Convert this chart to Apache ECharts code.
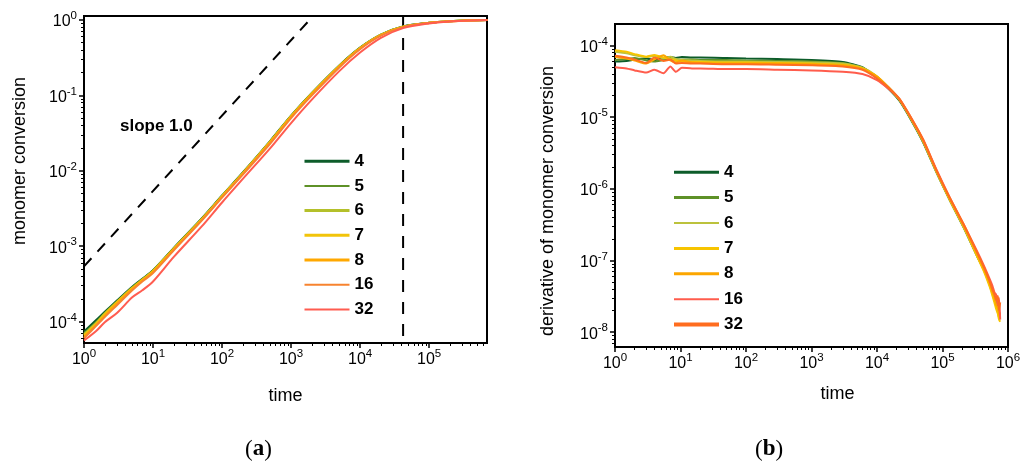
<!DOCTYPE html>
<html>
<head>
<meta charset="utf-8">
<script src="https://cdn.jsdelivr.net/npm/echarts@6/dist/echarts.min.js"></script>
<style>html,body{margin:0;padding:0;background:#fff;}#c{width:1030px;height:461px;}</style>
</head>
<body>
<div id="c"></div>
<script>
// ---------- data: panel (a) monomer conversion ----------
var timeA = [1, 1.5, 2, 3, 5, 7, 10, 20, 50, 100, 200, 500, 1000, 2000, 5000, 10000, 20000, 42000, 100000, 200000, 400000, 700000];
var convN4  = [7.4e-5, 1.05e-4, 1.35e-4, 1.9e-4, 2.9e-4, 3.7e-4, 4.8e-4, 9.5e-4, 2.3e-3, 4.7e-3, 9.5e-3, 2.5e-2, 5.4e-2, 1.08e-1, 2.5e-1, 4.3e-1, 6.4e-1, 8.2e-1, 9.2e-1, 9.65e-1, 9.9e-1, 1.0];
var convN5  = [7.0e-5, 9.8e-5, 1.3e-4, 1.85e-4, 2.85e-4, 3.65e-4, 4.75e-4, 9.4e-4, 2.28e-3, 4.65e-3, 9.4e-3, 2.47e-2, 5.35e-2, 1.07e-1, 2.48e-1, 4.28e-1, 6.38e-1, 8.18e-1, 9.2e-1, 9.65e-1, 9.9e-1, 1.0];
var convN6  = [6.8e-5, 9.6e-5, 1.28e-4, 1.82e-4, 2.8e-4, 3.6e-4, 4.7e-4, 9.3e-4, 2.25e-3, 4.6e-3, 9.3e-3, 2.45e-2, 5.3e-2, 1.06e-1, 2.46e-1, 4.26e-1, 6.36e-1, 8.16e-1, 9.18e-1, 9.64e-1, 9.9e-1, 1.0];
var convN7  = [6.6e-5, 9.4e-5, 1.25e-4, 1.8e-4, 2.78e-4, 3.58e-4, 4.7e-4, 9.3e-4, 2.25e-3, 4.6e-3, 9.3e-3, 2.45e-2, 5.3e-2, 1.06e-1, 2.46e-1, 4.25e-1, 6.35e-1, 8.15e-1, 9.18e-1, 9.64e-1, 9.9e-1, 1.0];
var convN8  = [6.3e-5, 9.0e-5, 1.2e-4, 1.75e-4, 2.72e-4, 3.52e-4, 4.6e-4, 9.1e-4, 2.2e-3, 4.5e-3, 9.1e-3, 2.4e-2, 5.2e-2, 1.04e-1, 2.42e-1, 4.2e-1, 6.3e-1, 8.1e-1, 9.15e-1, 9.62e-1, 9.88e-1, 1.0];
var convN16 = [6.0e-5, 8.8e-5, 1.15e-4, 1.65e-4, 2.6e-4, 3.4e-4, 4.4e-4, 8.8e-4, 2.15e-3, 4.4e-3, 8.9e-3, 2.3e-2, 5.0e-2, 1.0e-1, 2.35e-1, 4.1e-1, 6.2e-1, 8.05e-1, 9.15e-1, 9.6e-1, 9.88e-1, 1.0];
var convN32 = [5.6e-5, 7.5e-5, 9.8e-5, 1.3e-4, 2.1e-4, 2.6e-4, 3.4e-4, 7.2e-4, 1.8e-3, 3.8e-3, 7.8e-3, 2.0e-2, 4.3e-2, 8.8e-2, 2.1e-1, 3.7e-1, 5.8e-1, 7.8e-1, 9.0e-1, 9.55e-1, 9.85e-1, 1.0];
var slopeLine = [[1, 5.4e-4], [1850, 1.0]];
var markerTime = 42000;

// ---------- data: panel (b) derivative ----------
var timeB = [1, 1.5, 2, 3, 4, 5.5, 7, 8.5, 10.5, 15, 20, 50, 100, 300, 1000, 3000, 6000, 10000, 15000, 22000, 35000, 51000, 81000, 129000, 210000, 330000, 430000, 530000, 580000, 620000, 660000, 700000, 730000, 760000];
var derN4  = [6.0e-5, 6.1e-5, 6.4e-5, 6.6e-5, 6.3e-5, 6.7e-5, 6.9e-5, 6.7e-5, 6.9e-5, 6.8e-5, 6.8e-5, 6.7e-5, 6.6e-5, 6.5e-5, 6.3e-5, 5.9e-5, 5.0e-5, 3.5e-5, 2.5e-5, 1.7e-5, 8.4e-6, 4.4e-6, 1.7e-6, 7.0e-7, 2.9e-7, 1.2e-7, 7.4e-8, 4.6e-8, 3.6e-8, 3.0e-8, 2.5e-8, 2.1e-8, 1.9e-8, 1.7e-8];
var derN5  = [6.3e-5, 6.5e-5, 6.7e-5, 6.2e-5, 6.0e-5, 6.3e-5, 6.5e-5, 6.2e-5, 6.4e-5, 6.4e-5, 6.3e-5, 6.3e-5, 6.2e-5, 6.1e-5, 6.0e-5, 5.7e-5, 4.9e-5, 3.6e-5, 2.6e-5, 1.75e-5, 8.6e-6, 4.5e-6, 1.75e-6, 7.2e-7, 3.0e-7, 1.25e-7, 7.6e-8, 4.7e-8, 3.7e-8, 3.0e-8, 2.6e-8, 2.2e-8, 1.9e-8, 1.7e-8];
var derN6  = [8.2e-5, 7.8e-5, 7.3e-5, 6.9e-5, 7.2e-5, 6.6e-5, 7.0e-5, 6.5e-5, 6.3e-5, 6.2e-5, 6.1e-5, 6.0e-5, 6.0e-5, 5.9e-5, 5.8e-5, 5.6e-5, 4.9e-5, 3.7e-5, 2.6e-5, 1.75e-5, 8.6e-6, 4.5e-6, 1.7e-6, 7.0e-7, 2.9e-7, 1.2e-7, 7.2e-8, 4.4e-8, 3.4e-8, 2.8e-8, 2.3e-8, 1.9e-8, 1.6e-8, 1.5e-8];
var derN7  = [8.6e-5, 8.2e-5, 7.6e-5, 7.0e-5, 7.4e-5, 6.8e-5, 6.5e-5, 6.2e-5, 6.0e-5, 5.9e-5, 5.9e-5, 5.8e-5, 5.8e-5, 5.7e-5, 5.6e-5, 5.4e-5, 4.8e-5, 3.7e-5, 2.6e-5, 1.75e-5, 8.7e-6, 4.6e-6, 1.75e-6, 7.1e-7, 3.0e-7, 1.2e-7, 7.0e-8, 4.2e-8, 3.2e-8, 2.6e-8, 2.1e-8, 1.8e-8, 1.5e-8, 1.4e-8];
var derN8  = [7.0e-5, 6.6e-5, 6.2e-5, 5.6e-5, 6.4e-5, 7.3e-5, 6.2e-5, 5.8e-5, 6.2e-5, 5.8e-5, 5.7e-5, 5.6e-5, 5.6e-5, 5.6e-5, 5.5e-5, 5.3e-5, 4.7e-5, 3.7e-5, 2.6e-5, 1.78e-5, 8.8e-6, 4.6e-6, 1.8e-6, 7.3e-7, 3.1e-7, 1.3e-7, 7.6e-8, 4.8e-8, 3.6e-8, 3.1e-8, 2.4e-8, 2.2e-8, 1.8e-8, 1.6e-8];
var derN16 = [5.0e-5, 4.8e-5, 4.5e-5, 4.2e-5, 4.6e-5, 4.1e-5, 5.1e-5, 4.3e-5, 4.9e-5, 4.8e-5, 4.8e-5, 4.7e-5, 4.7e-5, 4.6e-5, 4.5e-5, 4.3e-5, 4.0e-5, 3.3e-5, 2.5e-5, 1.8e-5, 9.0e-6, 4.8e-6, 1.85e-6, 7.6e-7, 3.2e-7, 1.4e-7, 8.4e-8, 5.4e-8, 4.4e-8, 3.6e-8, 3.3e-8, 2.4e-8, 3.0e-8, 1.5e-8];
var derN32 = [7.2e-5, 6.8e-5, 6.4e-5, 5.7e-5, 6.8e-5, 6.1e-5, 6.4e-5, 5.6e-5, 5.7e-5, 5.6e-5, 5.6e-5, 5.5e-5, 5.5e-5, 5.4e-5, 5.3e-5, 5.1e-5, 4.6e-5, 3.5e-5, 2.6e-5, 1.8e-5, 9.0e-6, 4.8e-6, 1.8e-6, 7.5e-7, 3.2e-7, 1.35e-7, 8.0e-8, 5.0e-8, 3.9e-8, 3.4e-8, 2.8e-8, 3.2e-8, 2.0e-8, 2.6e-8];

var seriesLabels = ['4', '5', '6', '7', '8', '16', '32'];
var colorsA = ['#0d5c2a', '#5e9127', '#b4c02a', '#f2c40a', '#ffa800', '#f7832f', '#ff5c50'];
var widthsA = [3, 2, 3, 3, 3, 2, 2];
var colorsB = ['#0d5c2a', '#5e9127', '#bcc23c', '#f7c400', '#fca600', '#ff5c4c', '#ff6d1f'];
var widthsB = [3, 3, 2, 3, 3, 2, 4];

// axis ranges (decades of the log axes)
var xRangeA = [1, 690000], yRangeA = [5.2e-5, 1.13];
var xRangeB = [1, 1000000], yRangeB = [6.2e-9, 2.0e-4];

var convAll = [convN4, convN5, convN6, convN7, convN8, convN16, convN32];
var derAll = [derN4, derN5, derN6, derN7, derN8, derN16, derN32];

var FONT = 'Liberation Sans, Arial, sans-serif';

function zip(xs, ys) { var out = []; for (var i = 0; i < xs.length; i++) { if (ys[i] != null) out.push([xs[i], ys[i]]); } return out; }
function minorValues(range) {
  var out = [];
  var e0 = Math.floor(Math.log(range[0]) / Math.LN10), e1 = Math.ceil(Math.log(range[1]) / Math.LN10);
  for (var e = e0; e <= e1; e++) {
    for (var m = 2; m <= 9; m++) {
      var v = m * Math.pow(10, e);
      if (v > range[0] && v < range[1]) out.push(v);
    }
  }
  return out;
}
function majorValues(range) {
  var out = [];
  var e0 = Math.ceil(Math.log(range[0]) / Math.LN10 - 1e-9), e1 = Math.floor(Math.log(range[1]) / Math.LN10 + 1e-9);
  for (var e = e0; e <= e1; e++) out.push(Math.pow(10, e));
  return out;
}
function powLabel(v) {
  var e = Math.log(v) / Math.LN10; var r = Math.round(e);
  if (Math.abs(e - r) > 1e-6) return '';
  return '{b|10}{s|' + r + '}';
}
var richLab = {
  b: { fontFamily: FONT, fontSize: 16, color: '#000', lineHeight: 16, padding: [4, 0, 0, 0] },
  s: { fontFamily: FONT, fontSize: 11.5, color: '#000', lineHeight: 12, padding: [0, 0, 8, 0] }
};
function logAxis(gi, range, name, extra) {
  var ax = {
    type: 'log', logBase: 10, gridIndex: gi, min: range[0], max: range[1],
    axisLine: { show: true, lineStyle: { color: '#000', width: 2 } },
    axisTick: { show: true, inside: false, length: 5, customValues: majorValues(range), lineStyle: { color: '#000', width: 1.5 } },
    splitLine: { show: false },
    axisLabel: { formatter: powLabel, rich: richLab, margin: 7, color: '#000', customValues: majorValues(range), hideOverlap: false },
    name: name, nameLocation: 'middle',
    nameTextStyle: { fontFamily: FONT, fontSize: 18, color: '#000' }
  };
  for (var k in extra) ax[k] = extra[k];
  return ax;
}
function minorAxis(gi, range, pos) {
  return {
    type: 'log', logBase: 10, gridIndex: gi, min: range[0], max: range[1], position: pos,
    axisLine: { show: false }, axisLabel: { show: false }, splitLine: { show: false },
    axisTick: { show: true, inside: false, length: 3, customValues: minorValues(range), lineStyle: { color: '#000', width: 1 } },
    silent: true
  };
}

var series = [];
var legendA = [], legendB = [];
for (var i = 0; i < seriesLabels.length; i++) {
  var na = 'a|' + seriesLabels[i], nb = 'b|' + seriesLabels[i];
  series.push({ type: 'line', name: na, xAxisIndex: 0, yAxisIndex: 0, data: zip(timeA, convAll[i]), symbol: 'none', smooth: 0.3,
    lineStyle: { color: colorsA[i], width: 2 }, itemStyle: { color: colorsA[i] }, z: 3 + i });
  series.push({ type: 'line', name: nb, xAxisIndex: 1, yAxisIndex: 1, data: zip(timeB, derAll[i]), symbol: 'none', smooth: 0.2,
    lineStyle: { color: colorsB[i], width: 2 }, itemStyle: { color: colorsB[i] }, z: 3 + i });
  legendA.push({ name: na, lineStyle: { width: widthsA[i], color: colorsA[i] }, itemStyle: { opacity: 0 } });
  legendB.push({ name: nb, lineStyle: { width: widthsB[i], color: colorsB[i] }, itemStyle: { opacity: 0 } });
}
series.push({ type: 'line', name: 'slope', xAxisIndex: 0, yAxisIndex: 0, data: slopeLine, symbol: 'none',
  lineStyle: { color: '#000', width: 2, type: [11, 9] }, z: 2 });
series.push({ type: 'line', name: 'marker', xAxisIndex: 0, yAxisIndex: 0, data: [[markerTime, yRangeA[1]], [markerTime, yRangeA[0]]], symbol: 'none',
  lineStyle: { color: '#000', width: 2, type: [12, 10] }, z: 2 });

var legendCommon = {
  orient: 'vertical', itemWidth: 45, itemHeight: 14,
  itemStyle: { opacity: 0 },
  textStyle: { fontFamily: FONT, fontSize: 17, fontWeight: 'bold', color: '#000', lineHeight: 16 },
  formatter: function (n) { return n.split('|')[1]; },
  selectedMode: false
};
var legA = Object.assign({}, legendCommon, { left: 298, top: 147.7, itemGap: 7.7, data: legendA });
var legB = Object.assign({}, legendCommon, { left: 667, top: 158.7, itemGap: 8.4, data: legendB });

var option = {
  animation: false,
  backgroundColor: '#fff',
  grid: [
    { left: 84, top: 16, width: 403, height: 327, show: true, borderColor: '#000', borderWidth: 2, backgroundColor: 'transparent' },
    { left: 615, top: 24, width: 393, height: 323, show: true, borderColor: '#000', borderWidth: 2, backgroundColor: 'transparent' }
  ],
  xAxis: [
    logAxis(0, xRangeA, 'time', { nameGap: 44 }),
    logAxis(1, xRangeB, 'time', { nameGap: 38, nameTextStyle: { fontFamily: FONT, fontSize: 18, color: '#000', padding: [0, 0, 0, 52] } }),
    minorAxis(0, xRangeA, 'bottom'),
    minorAxis(1, xRangeB, 'bottom')
  ],
  yAxis: [
    logAxis(0, yRangeA, 'monomer conversion', { nameGap: 55, nameTextStyle: { fontFamily: FONT, fontSize: 18, color: '#000', padding: [0, 0, 0, 37] } }),
    logAxis(1, yRangeB, 'derivative of monomer conversion', { nameGap: 58, nameTextStyle: { fontFamily: FONT, fontSize: 18, color: '#000', padding: [0, 31, 0, 0] } }),
    minorAxis(0, yRangeA, 'left'),
    minorAxis(1, yRangeB, 'left')
  ],
  legend: [legA, legB],
  series: series,
  graphic: [
    { type: 'text', left: 120, top: 118, style: { text: 'slope 1.0', fontFamily: FONT, fontSize: 17, fontWeight: 'bold', fill: '#000' } },
    { type: 'text', left: 245, top: 438, style: { text: '{p|(}{b|a}{p|)}', rich: { p: { fontFamily: 'Liberation Serif, serif', fontSize: 23, fill: '#000' }, b: { fontFamily: 'Liberation Serif, serif', fontSize: 23, fontWeight: 'bold', fill: '#000' } } } },
    { type: 'text', left: 755, top: 438, style: { text: '{p|(}{b|b}{p|)}', rich: { p: { fontFamily: 'Liberation Serif, serif', fontSize: 23, fill: '#000' }, b: { fontFamily: 'Liberation Serif, serif', fontSize: 23, fontWeight: 'bold', fill: '#000' } } } }
  ]
};
var chart = echarts.init(document.getElementById('c'), null, { renderer: 'canvas', width: 1030, height: 461 });
chart.setOption(option);
</script>
</body>
</html>
